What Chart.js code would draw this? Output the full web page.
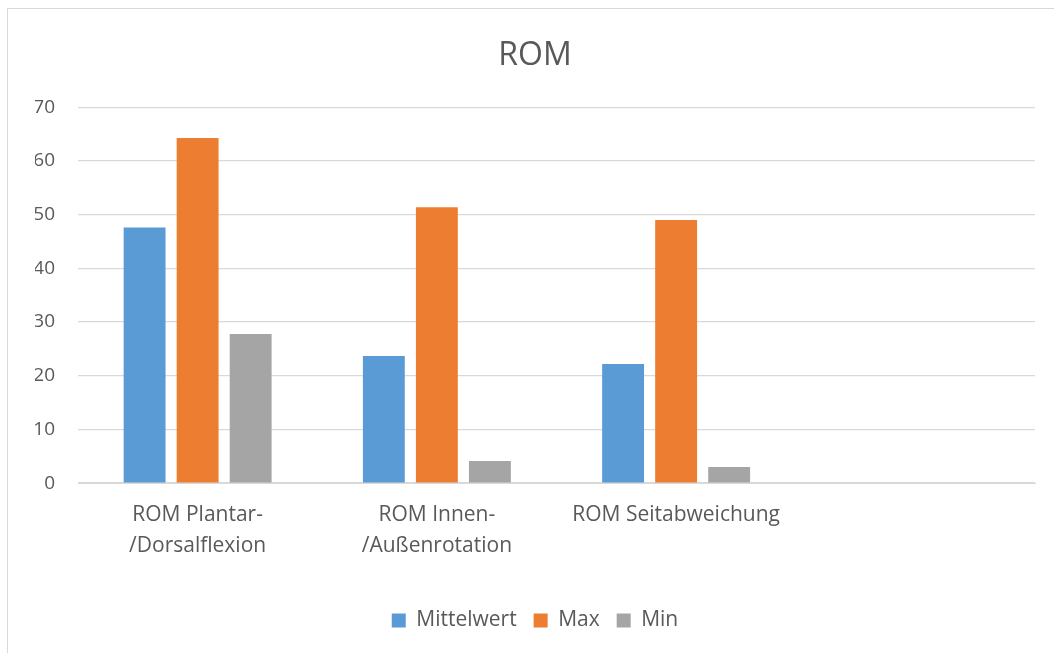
<!DOCTYPE html>
<html>
<head>
<meta charset="utf-8">
<script src="https://cdn.jsdelivr.net/npm/chart.js@4"></script>
<style>
    body { margin: 0; background: #fff; overflow: hidden; }
    .frame {
        position: absolute; left: 7px; top: 8px;
        width: 1100px; height: 700px;
        border: 1px solid #d9d9d9;
    }
    #romChart { position: absolute; left: 0; top: 0; }
</style>
</head>
<body>
<div class="frame"></div>
<canvas id="romChart" width="1054" height="653"></canvas>
<script>
// categories (4th slot is empty in the original chart)
const categories = [
    ["ROM Plantar-", "/Dorsalflexion"],
    ["ROM Innen-", "/Außenrotation"],
    "ROM Seitabweichung",
    ""
];

const mittelwert = [47.6, 23.7, 22.2, null];
const maxValues = [64.3, 51.4, 49.0, null];
const minValues = [27.8, 4.1, 3.0, null];

const yTicks = [0, 10, 20, 30, 40, 50, 60, 70];

const textColor = "#595959";
const gridColor = "#d9d9d9";
const fontFamily = "'Open Sans', sans-serif";

const ctx = document.getElementById("romChart").getContext("2d");

const chart = new Chart(ctx, {
    type: "bar",
    data: {
        labels: categories,
        datasets: [
            { label: "Mittelwert", data: mittelwert, backgroundColor: "#5b9bd5" },
            { label: "Max", data: maxValues, backgroundColor: "#ed7d31" },
            { label: "Min", data: minValues, backgroundColor: "#a5a5a5" }
        ]
    },
    options: {
        responsive: false,
        animation: false,
        datasets: {
            bar: {
                categoryPercentage: 0.665,
                barPercentage: 0.79
            }
        },
        layout: {
            padding: { left: 35, right: 19, top: 0, bottom: 12 }
        },
        plugins: {
            title: {
                display: true,
                text: "ROM",
                color: textColor,
                font: { family: fontFamily, size: 32, weight: "normal" },
                padding: { top: 37, bottom: 32 }
            },
            legend: {
                position: "bottom",
                labels: {
                    color: textColor,
                    font: { family: fontFamily, size: 21 },
                    boxWidth: 14,
                    boxHeight: 14,
                    padding: 17
                }
            },
            tooltip: { enabled: false }
        },
        scales: {
            x: {
                grid: { display: false, drawTicks: false },
                border: { color: gridColor, width: 1 },
                afterFit: axis => { axis.height += 15; },
                ticks: {
                    color: textColor,
                    font: { family: fontFamily, size: 21, lineHeight: 1.45 },
                    padding: 17,
                    maxRotation: 0,
                    autoSkip: false
                }
            },
            y: {
                min: 0,
                max: 70,
                afterBuildTicks: axis => {
                    axis.ticks = yTicks.map(v => ({ value: v }));
                },
                afterFit: axis => { axis.width = 43; },
                grid: { color: gridColor, lineWidth: 1.3, drawTicks: false },
                border: { display: false },
                ticks: {
                    color: textColor,
                    font: { family: fontFamily, size: 19 },
                    padding: 23
                }
            }
        }
    }
});
</script>
</body>
</html>
